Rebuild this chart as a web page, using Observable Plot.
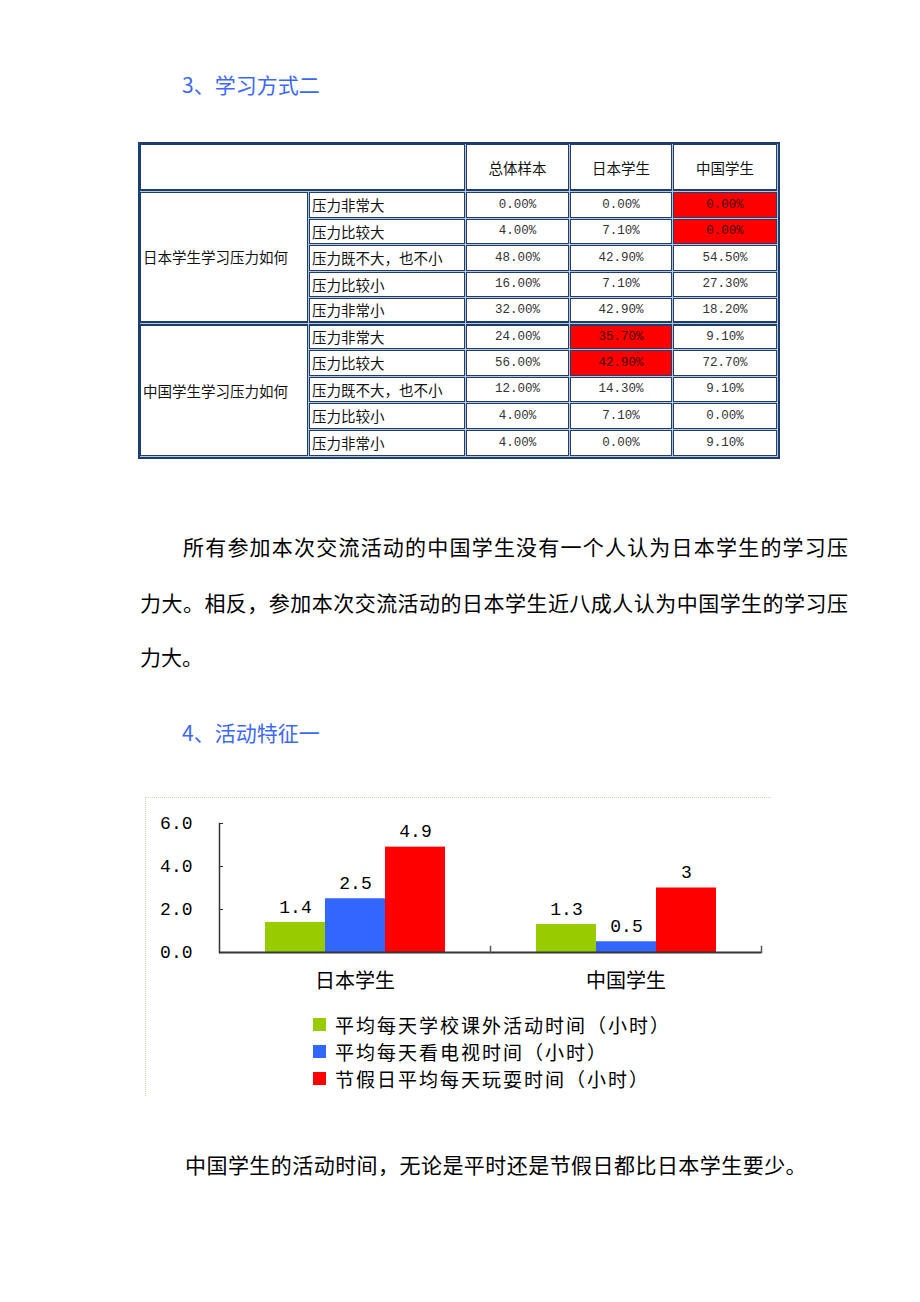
<!DOCTYPE html>
<html><head><meta charset="utf-8">
<script src="https://cdn.jsdelivr.net/npm/d3@7"></script>
<script src="https://cdn.jsdelivr.net/npm/@observablehq/plot@0.6"></script>
<style>
html,body{margin:0;padding:0;background:#fff;}
body{width:920px;height:1302px;position:relative;overflow:hidden;font-family:"Noto Sans CJK SC",sans-serif;color:#000;}
.abs{position:absolute;}
.h{font-size:21px;color:#3d68f5;line-height:30px;white-space:nowrap;}
.p{font-size:21px;line-height:30px;color:#000;}
.j{text-align:justify;text-align-last:justify;}
#tbl{position:absolute;left:138px;top:142px;width:638px;height:313px;border:2px solid #1d3d6e;background:#b9c6d8;}
.cell{position:absolute;box-sizing:border-box;border:1px solid #1d3d6e;background:#fff;display:flex;align-items:center;white-space:nowrap;overflow:hidden;}
.lab{font-size:14.5px;color:#111;padding-left:2px;justify-content:flex-start;}
.num{font-family:"Liberation Mono",monospace;font-size:12.5px;color:#333;justify-content:center;}
.hd{font-size:14.5px;color:#111;justify-content:center;}
.red{background:#ff0000;color:#400;}
#box{position:absolute;left:145px;top:797px;width:625px;height:298px;border-top:1px dotted #d6d3b0;border-left:1px dotted #d6d3b0;}
#chart{position:absolute;left:145px;top:797px;}
#legend{position:absolute;left:313px;top:1011px;}
.lrow{display:flex;align-items:center;height:27px;}
.sw{width:13px;height:13px;margin-right:9px;}
.lt{font-size:19px;letter-spacing:2px;line-height:27px;color:#000;white-space:nowrap;}
</style></head><body>
<script>
// ---------- texts ----------
const heading1 = "3、学习方式二";
const heading2 = "4、活动特征一";
const para1Lines = ["所有参加本次交流活动的中国学生没有一个人认为日本学生的学习压",
                    "力大。相反，参加本次交流活动的日本学生近八成人认为中国学生的学习压",
                    "力大。"];
const para2 = "中国学生的活动时间，无论是平时还是节假日都比日本学生要少。";

// ---------- table data ----------
const tableColumns = ["总体样本", "日本学生", "中国学生"];
const tableGroups = ["日本学生学习压力如何", "中国学生学习压力如何"];
const tableRowLabels = ["压力非常大", "压力比较大", "压力既不大，也不小", "压力比较小", "压力非常小"];
const tableValuesJP = [["0.00%","0.00%","0.00%"],["4.00%","7.10%","0.00%"],["48.00%","42.90%","54.50%"],["16.00%","7.10%","27.30%"],["32.00%","42.90%","18.20%"]];
const tableValuesCN = [["24.00%","35.70%","9.10%"],["56.00%","42.90%","72.70%"],["12.00%","14.30%","9.10%"],["4.00%","7.10%","0.00%"],["4.00%","0.00%","9.10%"]];
const highlightJP = [[0,0,1],[0,0,1],[0,0,0],[0,0,0],[0,0,0]];
const highlightCN = [[0,1,0],[0,1,0],[0,0,0],[0,0,0],[0,0,0]];

// ---------- chart data ----------
const groups = ["日本学生", "中国学生"];
const series = ["平均每天学校课外活动时间（小时）", "平均每天看电视时间（小时）", "节假日平均每天玩耍时间（小时）"];
const seriesColors = ["#99cc00", "#3366ff", "#ff0000"];
const valuesJapan = [1.4, 2.5, 4.9];
const valuesChina = [1.3, 0.5, 3];
const labelsJapan = ["1.4", "2.5", "4.9"];
const labelsChina = ["1.3", "0.5", "3"];
const yTicks = [0, 2, 4, 6];
const yTickLabels = ["0.0", "2.0", "4.0", "6.0"];

// ---------- page text ----------
function addDiv(cls, text, style) {
  const d = document.createElement("div");
  d.className = cls;
  d.textContent = text;
  Object.assign(d.style, style);
  document.body.appendChild(d);
  return d;
}
addDiv("abs h", heading1, {left: "182px", top: "69px"});
addDiv("abs p j", para1Lines[0], {left: "183px", top: "531px", width: "665px"});
addDiv("abs p j", para1Lines[1], {left: "140px", top: "587px", width: "708px"});
addDiv("abs p", para1Lines[2], {left: "140px", top: "641px", whiteSpace: "nowrap"});
addDiv("abs h", heading2, {left: "182px", top: "717px"});
addDiv("abs p", para2, {left: "185px", top: "1149px", whiteSpace: "nowrap", letterSpacing: "0.45px"});

// ---------- table ----------
const colEdges = [0, 169, 326, 430, 533, 638];
const rowEdges = [0, 48, 74.5, 101, 127.5, 153.5, 179.5, 206, 232.5, 259, 285.5, 313];
const tbl = document.createElement("div");
tbl.id = "tbl";
document.body.appendChild(tbl);
function cell(c0, c1, r0, r1, cls, text, extra) {
  const d = document.createElement("div");
  d.className = "cell " + cls;
  d.textContent = text;
  const x0 = colEdges[c0], x1 = colEdges[c1], y0 = rowEdges[r0], y1 = rowEdges[r1];
  Object.assign(d.style, {left: x0 + "px", top: y0 + "px", width: (x1 - x0 - 1) + "px", height: (y1 - y0 - 1) + "px"}, extra || {});
  tbl.appendChild(d);
}
cell(0, 2, 0, 1, "hd", "", {borderBottomWidth: "2px"});
tableColumns.forEach((c, i) => cell(2 + i, 3 + i, 0, 1, "hd", c, {borderBottomWidth: "2px"}));
[[tableValuesJP, highlightJP], [tableValuesCN, highlightCN]].forEach(([vals, hl], g) => {
  const r0 = 1 + g * 5;
  cell(0, 1, r0, r0 + 5, "lab", tableGroups[g], g === 0 ? {borderBottomWidth: "2px"} : {borderTopWidth: "2px"});
  tableRowLabels.forEach((lab, i) => {
    const ex = {};
    if (g === 0 && i === 4) ex.borderBottomWidth = "2px";
    if (g === 1 && i === 0) ex.borderTopWidth = "2px";
    cell(1, 2, r0 + i, r0 + i + 1, "lab", lab, ex);
    vals[i].forEach((v, j) => cell(2 + j, 3 + j, r0 + i, r0 + i + 1, "num" + (hl[i][j] ? " red" : ""), v, ex));
  });
});

// ---------- chart ----------
const box = document.createElement("div");
box.id = "box";
document.body.appendChild(box);

const data = [];
groups.forEach((g, gi) => {
  const vals = gi === 0 ? valuesJapan : valuesChina;
  const labs = gi === 0 ? labelsJapan : labelsChina;
  series.forEach((s, si) => data.push({group: g, series: s, value: vals[si], label: labs[si]}));
});

const mono = "'Liberation Mono', monospace";
const cjk = "'Noto Sans CJK SC', sans-serif";
const H = 203, MT = 26, MB = 48;
const chart = Plot.plot({
  width: 625,
  height: H,
  marginLeft: 74,
  marginRight: 9,
  marginTop: MT,
  marginBottom: MB,
  style: {background: "transparent", color: "#000", overflow: "visible"},
  fx: {domain: groups, padding: 0, axis: null, label: null},
  x: {domain: series, paddingInner: 0, paddingOuter: 0.75, axis: null},
  y: {domain: [0, 6], axis: null, label: null},
  color: {domain: series, range: seriesColors},
  marks: [
    Plot.barY(data, {fx: "group", x: "series", y: "value", fill: "series"}),
    Plot.text(data, {fx: "group", x: "series", y: "value", text: "label", dy: -15.5, lineAnchor: "middle", fontSize: 18, fontFamily: mono, fill: "#000"}),
    Plot.ruleY([0], {stroke: "#333", strokeWidth: 2}),
    Plot.frame({anchor: "left", facetAnchor: "left", stroke: "#333", strokeWidth: 1.5}),
    Plot.frame({anchor: "right", insetTop: H - MT - MB - 6, stroke: "#555", strokeWidth: 1.5}),
    Plot.axisY({ticks: yTicks, tickSize: 4, dx: 4, tickFormat: () => "", stroke: "#333", label: null}),
    Plot.axisY({ticks: yTicks, tickSize: 0, tickPadding: 27, tickFormat: d => yTickLabels[yTicks.indexOf(d)], fontSize: 18, fontFamily: mono, fill: "#000", label: null}),
    Plot.axisFx({anchor: "bottom", tickSize: 0, tickPadding: 21, fontSize: 20, fontFamily: cjk, fill: "#000", label: null})
  ]
});
const wrap = document.createElement("div");
wrap.id = "chart";
wrap.appendChild(chart);
document.body.appendChild(wrap);

// legend
const legend = document.createElement("div");
legend.id = "legend";
series.forEach((s, i) => {
  const row = document.createElement("div");
  row.className = "lrow";
  const sw = document.createElement("div");
  sw.className = "sw";
  sw.style.background = seriesColors[i];
  const t = document.createElement("div");
  t.className = "lt";
  t.textContent = s;
  row.appendChild(sw);
  row.appendChild(t);
  legend.appendChild(row);
});
document.body.appendChild(legend);
</script>
</body></html>
